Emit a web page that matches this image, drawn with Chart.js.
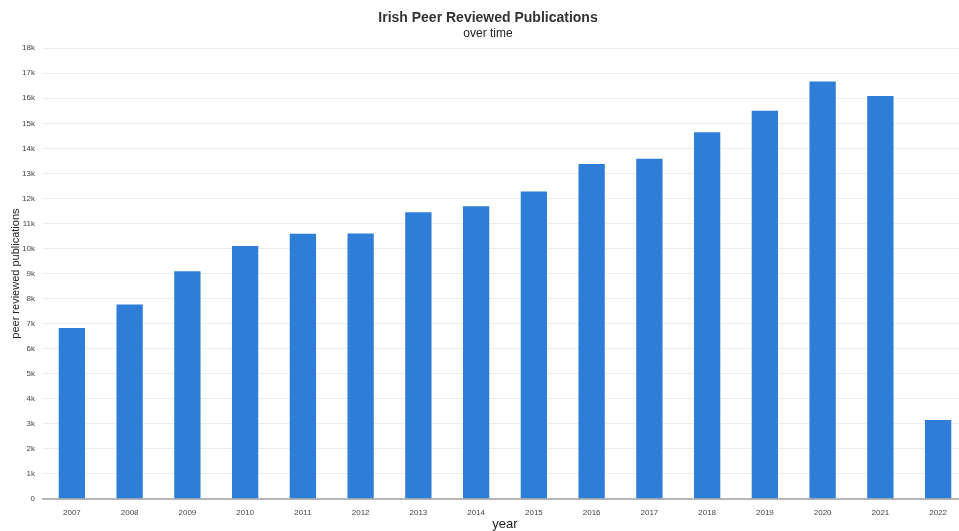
<!DOCTYPE html>
<html>
<head>
<meta charset="utf-8">
<script src="https://cdn.jsdelivr.net/npm/chart.js@4/dist/chart.umd.min.js"></script>
<style>
  html, body { margin: 0; padding: 0; background: #fff; overflow: hidden; }
  #wrap { width: 967px; height: 531px; position: relative; }
</style>
</head>
<body>
<div id="wrap"><canvas id="myChart1"></canvas></div>
<script>
const years = ['2007', '2008', '2009', '2010', '2011', '2012', '2013', '2014',
  '2015', '2016', '2017', '2018', '2019', '2020', '2021', '2022'];
const publications = [6870, 7810, 9130, 10140, 10630, 10640, 11490, 11730,
  12320, 13420, 13630, 14680, 15540, 16710, 16130, 3190];
const yTicks = [0, 1000, 2000, 3000, 4000, 5000, 6000, 7000, 8000, 9000,
  10000, 11000, 12000, 13000, 14000, 15000, 16000, 17000, 18000];

const font = 'Liberation Sans, Arial, Helvetica, sans-serif';

function kLabel(v) {
  if (v === 0) return '0';
  return (v / 1000) + 'k';
}

const config = {
  type: 'bar',
  data: {
    labels: years,
    datasets: [{
      label: 'publications',
      data: publications,
      backgroundColor: '#2e7ed8',
      borderColor: 'rgba(255,255,255,0.35)',
      borderWidth: 1,
      categoryPercentage: 1,
      barPercentage: 0.49
    }]
  },
  options: {
    responsive: true,
    maintainAspectRatio: false,
    animation: false,
    layout: { padding: { left: 9, right: 0, top: 0, bottom: 0 } },
    plugins: {
      legend: { display: false },
      tooltip: { enabled: false },
      title: {
        display: true,
        text: 'Irish Peer Reviewed Publications',
        color: '#333',
        font: { family: font, size: 14, weight: 'bold' },
        padding: { top: 10, bottom: 0 }
      },
      subtitle: {
        display: true,
        text: 'over time',
        color: '#222',
        font: { family: font, size: 12 },
        padding: { top: 0, bottom: 7 }
      }
    },
    scales: {
      x: {
        grid: { display: false, drawTicks: false },
        border: { color: '#b5b5b5', width: 2 },
        ticks: { color: '#444', font: { family: font, size: 8 }, padding: 9 },
        title: {
          display: true, text: 'year', color: '#222',
          font: { family: font, size: 13 }, padding: { top: 0, bottom: -1 }
        },
        afterFit: axis => { axis.height = 32; }
      },
      y: {
        min: 0,
        max: 18000,
        afterBuildTicks: axis => { axis.ticks = yTicks.map(v => ({ value: v })); },
        grid: { color: '#ececec', drawTicks: false },
        border: { display: false },
        ticks: {
          color: '#444', font: { family: font, size: 8 }, padding: 8,
          callback: v => kLabel(v)
        },
        title: {
          display: true, text: 'peer reviewed publications', color: '#222',
          font: { family: font, size: 11 }, padding: { top: 0, bottom: 4 }
        },
        afterFit: axis => { axis.width = 34; }
      }
    }
  }
};

new Chart(document.getElementById('myChart1').getContext('2d'), config);
</script>
</body>
</html>
